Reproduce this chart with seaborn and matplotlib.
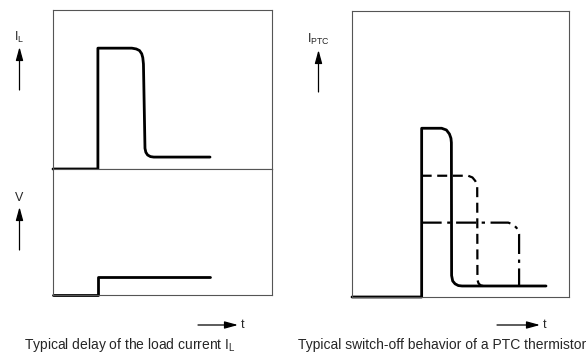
import numpy as np
import matplotlib.pyplot as plt
import pandas as pd
import seaborn as sns

# load current I_L (left, upper box), time and current in % of box
il_t = [0, 20.5, 20.5, 36, 38, 39.5, 40.5, 41.0, 41.3, 42.0, 42.4, 43.2, 44.5, 46, 71.7]
il_y = [0, 0, 76, 76, 75.5, 74.5, 72.5, 70, 66, 13, 10.5, 8.8, 7.8, 7.5, 7.5]

# voltage V (left, lower box)
v_t = [0, 20.5, 20.5, 71.7]
v_y = [0, 0, 14.5, 14.5]

# PTC currents (right box)
ptc1_t = [0, 32.1, 32.1, 41.3, 43.5, 44.9, 45.6, 45.8, 45.9, 46.4, 47.5, 49, 50.7, 89.4]
ptc1_y = [0, 0, 59.0, 59.0, 58.4, 57.0, 55.5, 54.0, 7.5, 5.6, 4.6, 4.0, 3.85, 3.85]
ptc2_t = [32.1, 53.5, 55.5, 56.8, 57.5, 57.7, 57.8, 58.3, 59.2, 60.4]
ptc2_y = [42.4, 42.4, 41.8, 40.6, 39.5, 38.6, 6.0, 4.8, 4.1, 3.85]
ptc3_t = [32.1, 72.0, 74.2, 75.8, 76.7, 77.0, 77.0]
ptc3_y = [26.0, 26.0, 25.4, 24.2, 23.0, 22.0, 3.85]

sns.set_style("white")
plt.rcParams['font.family'] = ['Liberation Sans', 'DejaVu Sans']
plt.rcParams['mathtext.default'] = 'regular'

W, H = 588, 363
fig = plt.figure(figsize=(W/100, H/100), dpi=100)

def px_axes(x0, y0, x1, y1):
    ax = fig.add_axes([x0/W, 1-y1/H, (x1-x0)/W, (y1-y0)/H])
    ax.set_xlim(0, 100)
    ax.set_ylim(0, 100)
    ax.set_xticks([])
    ax.set_yticks([])
    for s in ax.spines.values():
        s.set_color("#555555")
        s.set_linewidth(0.8)
    return ax

def draw(ax, t, y, lw=2.0, ls="-", dashes=None):
    df = pd.DataFrame({"t": t, "y": y})
    sns.lineplot(data=df, x="t", y="y", ax=ax, sort=False, estimator=None,
                 color="black", lw=lw, linestyle=ls)
    line = ax.lines[-1]
    line.set_clip_on(False)
    line.set_solid_joinstyle("round")
    line.set_dash_joinstyle("round")
    if dashes is not None:
        line.set_dashes(dashes)
    ax.set_xlabel("")
    ax.set_ylabel("")

ax_il = px_axes(53, 10, 272, 169)
ax_v = px_axes(53, 169, 272, 295)
ax_ptc = px_axes(352, 11, 569, 297)

draw(ax_il, il_t, il_y)
draw(ax_v, v_t, v_y)
draw(ax_ptc, ptc1_t, ptc1_y)
draw(ax_ptc, ptc2_t, ptc2_y, lw=1.6, ls="--", dashes=(4.5, 2.5))
draw(ax_ptc, ptc3_t, ptc3_y, lw=1.6, ls="-.", dashes=(9, 2.5, 1.5, 2.5))

# overlay in pixel coordinates for the arrows and labels
ov = fig.add_axes([0, 0, 1, 1], zorder=-1)
ov.set_xlim(0, W)
ov.set_ylim(H, 0)
ov.axis("off")

ap = dict(arrowstyle="-|>,head_length=0.8,head_width=0.22", lw=0.9, color="black",
          mutation_scale=10, shrinkA=0, shrinkB=0)

def up_arrow(x, y0, y1):
    ov.annotate("", xy=(x, y1), xytext=(x, y0), arrowprops=ap)

def t_arrow(x0, x1, y):
    ov.annotate("", xy=(x1, y), xytext=(x0, y), arrowprops=ap)
    ov.text(x1 + 3, y, "t", fontsize=9, va="center", ha="left")

up_arrow(19.5, 90, 47)
ov.text(19.5, 37, r"I$_{L}$", fontsize=9, ha="center", va="center")
up_arrow(19.5, 250, 207)
ov.text(19.5, 198, "V", fontsize=9, ha="center", va="center")
up_arrow(318.5, 92, 50)
ov.text(318, 39, r"I$_{PTC}$", fontsize=9, ha="center", va="center")

t_arrow(198, 238, 198)
t_arrow(198, 238, 325)
t_arrow(497, 540, 325)

ov.text(130, 345, r"Typical delay of the load current I$_{L}$", fontsize=10,
        ha="center", va="center")
ov.text(442, 345, "Typical switch-off behavior of a PTC thermistor", fontsize=10,
        ha="center", va="center")

fig.savefig("out.png", dpi=100)
